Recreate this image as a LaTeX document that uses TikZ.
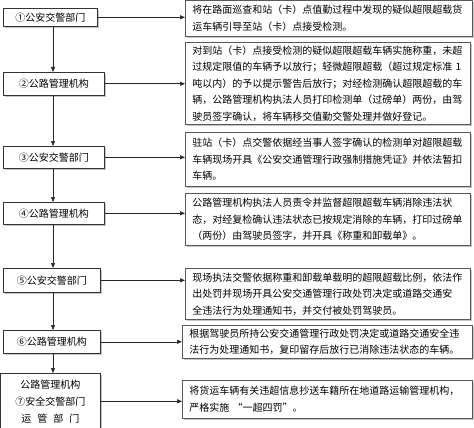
\documentclass[tikz,border=0pt]{standalone}
\usepackage{fontspec}
\setmainfont{Noto Sans CJK SC}
\usetikzlibrary{shadows,arrows.meta}
\begin{document}
\begin{tikzpicture}[x=1pt,y=-1pt,
  lbox/.style={draw=black!80, line width=0.6pt, fill=white,
    drop shadow={shadow xshift=1.3pt, shadow yshift=-1.3pt, fill=black!45},
    font=\fontsize{10}{17}\selectfont, inner sep=0pt, align=center, anchor=north west},
  rbox/.style={draw=black!65, line width=0.6pt, fill=white,
    drop shadow={shadow xshift=1.5pt, shadow yshift=-1.5pt, fill=black!45},
    font=\fontsize{10}{16.5}\selectfont, inner xsep=7pt, inner ysep=0pt, align=left, anchor=north west},
  arr/.style={-{Triangle[length=5pt,width=4pt]}, line width=0.6pt, draw=black!85}]
\useasboundingbox (0,0) rectangle (474,428);
\coordinate (sp) at (53,0);
% left boxes
\node[lbox, minimum width=94pt, minimum height=18pt] (L1) at (3,8) {①公安交警部门};
\node[lbox, minimum width=101pt, minimum height=23pt] (L2) at (3,72) {②公路管理机构};
\node[lbox, minimum width=101pt, minimum height=22pt] (L3) at (3,146) {③公安交警部门};
\node[lbox, minimum width=101pt, minimum height=22pt] (L4) at (3,202) {④公路管理机构};
\node[lbox, minimum width=97pt, minimum height=24pt] (L5) at (3,268) {⑤公安交警部门};
\node[lbox, minimum width=97pt, minimum height=23pt] (L6) at (3,330) {⑥公路管理机构};
\node[lbox, minimum width=100pt, minimum height=56pt] (L7) at (0,373) {公路管理机构\\⑦安全交警部门\\运\hspace{6pt}管\hspace{6pt}部\hspace{6pt}门};
% right boxes
\node[rbox, text width=273pt, minimum height=36pt] (R1) at (185,0)
  {将在路面巡查和站（卡）点值勤过程中发现的疑似超限超载货\\运车辆引导至站（卡）点接受检测。};
\node[rbox, text width=271pt, minimum height=82pt] (R2) at (185,42)
  {对到站（卡）点接受检测的疑似超限超载车辆实施称重，未超\\过规定限值的车辆予以放行；轻微超限超载（超过规定标准 1\\吨以内）的予以提示警告后放行；对经检测确认超限超载的车\\辆，公路管理机构执法人员打印检测单（过磅单）两份，由驾\\驶员签字确认，将车辆移交值勤交警处理并做好登记。};
\node[rbox, text width=271pt, minimum height=54pt] (R3) at (185,132)
  {驻站（卡）点交警依据经当事人签字确认的检测单对超限超载\\车辆现场开具《公安交通管理行政强制措施凭证》并依法暂扣\\车辆。};
\node[rbox, text width=271pt, minimum height=52pt] (R4) at (185,193)
  {公路管理机构执法人员责令并监督超限超载车辆消除违法状\\态，对经复检确认违法状态已按规定消除的车辆，打印过磅单\\（两份）由驾驶员签字，并开具《称重和卸载单》。};
\node[rbox, text width=271pt, minimum height=51pt] (R5) at (185,268)
  {现场执法交警依据称重和卸载单载明的超限超载比例，依法作\\出处罚并现场开具公安交通管理行政处罚决定或道路交通安\\全违法行为处理通知书，并交付被处罚驾驶员。};
\node[rbox, text width=276pt, minimum height=33pt] (R6) at (182,325)
  {根据驾驶员所持公安交通管理行政处罚决定或道路交通安全违\\法行为处理通知书，复印留存后放行已消除违法状态的车辆。};
\node[rbox, text width=276pt, minimum height=38pt] (R7) at (182,380)
  {将货运车辆有关违超信息抄送车籍所在地道路运输管理机构，\\严格实施 “一超四罚”。};
% vertical connectors
\draw[arr] (L1.south -| sp) -- (L2.north -| sp);
\draw[arr] (L2.south -| sp) -- (L3.north -| sp);
\draw[arr] (L3.south -| sp) -- (L4.north -| sp);
\draw[arr] (L4.south -| sp) -- (L5.north -| sp);
\draw[arr] (L5.south -| sp) -- (L6.north -| sp);
\draw[arr] (L6.south -| sp) -- (L7.north -| sp);
% horizontal connectors
\draw[arr] (L1.east) -- (L1.east -| R1.west);
\draw[arr] (L2.east) -- (L2.east -| R2.west);
\draw[arr] (L3.east) -- (L3.east -| R3.west);
\draw[arr] (L4.east) -- (L4.east -| R4.west);
\draw[arr] (L5.east) -- (L5.east -| R5.west);
\draw[arr] (L6.east) -- (L6.east -| R6.west);
\draw[arr] (L7.east) -- (L7.east -| R7.west);
\end{tikzpicture}
\end{document}
